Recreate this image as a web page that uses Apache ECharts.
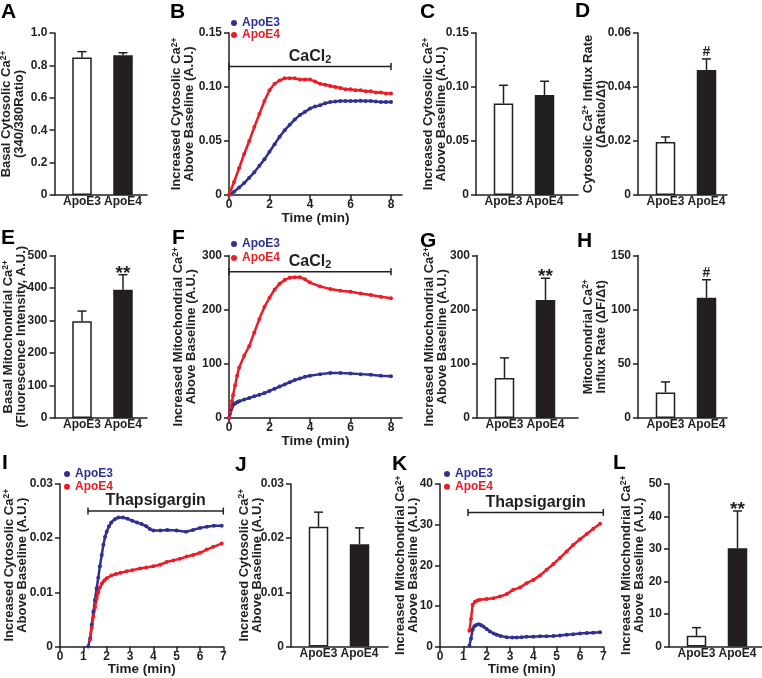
<!DOCTYPE html>
<html><head><meta charset="utf-8">
<script src="https://cdn.jsdelivr.net/npm/echarts@6.0.0/dist/echarts.min.js"></script>
<style>html,body{margin:0;padding:0;background:#fff}#c{width:762px;height:678px}</style>
</head><body><div id="c"></div>
<script>
// ================= DATA =================
const groups = ['ApoE3', 'ApoE4'];

// A: basal cytosolic Ca2+
const basalCytoMean = [0.848, 0.863];
const basalCytoSem  = [0.037, 0.015];
// C: increased cytosolic Ca2+ (CaCl2)
const incCytoMean = [0.0848, 0.0925];
const incCytoSem  = [0.0168, 0.0128];
// D: cytosolic influx rate
const cytoRateMean = [0.0196, 0.0463];
const cytoRateSem  = [0.0019, 0.0041];
// E: basal mitochondrial Ca2+
const basalMitoMean = [298, 395];
const basalMitoSem  = [31, 46];
// G: increased mitochondrial Ca2+ (CaCl2)
const incMitoMean = [74, 218];
const incMitoSem  = [37, 40];
// H: mitochondrial influx rate
const mitoRateMean = [23.5, 111];
const mitoRateSem  = [9.8, 16.6];
// J: increased cytosolic Ca2+ (thapsigargin)
const thapsCytoMean = [0.0221, 0.0189];
const thapsCytoSem  = [0.0027, 0.0030];
// L: increased mitochondrial Ca2+ (thapsigargin)
const thapsMitoMean = [3.3, 30.2];
const thapsMitoSem  = [2.5, 11.5];

const sigA = ['', ''], sigC = ['', ''], sigD = ['', '#'], sigE = ['', '**'];
const sigG = ['', '**'], sigH = ['', '#'], sigJ = ['', ''], sigL = ['', '**'];

// B: cytosolic Ca2+ time course with CaCl2
const cacl2Time = [0,0.25,0.5,0.75,1,1.25,1.5,1.75,2,2.25,2.5,2.75,3,3.25,3.5,3.75,4,4.25,4.5,4.75,5,5.25,5.5,5.75,6,6.25,6.5,6.75,7,7.25,7.5,7.75,8];
const cytoCaCl2E3 = [0,0.003,0.007,0.011,0.016,0.021,0.027,0.033,0.040,0.047,0.054,0.060,0.065,0.070,0.074,0.077,0.080,0.082,0.083,0.085,0.086,0.0865,0.087,0.087,0.087,0.087,0.0872,0.087,0.087,0.0865,0.086,0.086,0.086];
const cytoCaCl2E4 = [0,0.012,0.025,0.038,0.050,0.063,0.075,0.087,0.097,0.103,0.106,0.108,0.108,0.108,0.107,0.107,0.107,0.105,0.103,0.102,0.101,0.100,0.099,0.098,0.098,0.097,0.097,0.096,0.096,0.095,0.095,0.094,0.094];

// F: mitochondrial Ca2+ time course with CaCl2
const mitoCaCl2Time = [0,0.05,0.1,0.15,0.2,0.3,0.4,0.5,0.75,1,1.25,1.5,1.75,2,2.25,2.5,2.75,3,3.25,3.5,3.75,4,4.5,5,5.5,6,6.5,7,7.5,8];
const mitoCaCl2E3 = [0,8,15,20,24,27,29,31,34,37,40,43,46,50,54,58,62,66,70,73,76,78,81,83,83,82,81,80,78,77];
const mitoCaCl2E4 = [0,10,20,31,42,60,78,93,115,133,158,183,205,222,237,248,255,259,260,260,256,250,243,238,235,233,230,227,224,221];

// I: cytosolic Ca2+ time course with thapsigargin
const thapsCytoTimeE3 = [1.21,1.29,1.36,1.43,1.5,1.57,1.64,1.71,1.79,1.86,1.93,2.0,2.1,2.2,2.35,2.5,2.7,2.9,3.1,3.3,3.5,3.7,3.85,4.0,4.3,4.6,5.0,5.4,5.7,6.0,6.3,6.6,6.93];
const thapsCytoE3 = [0,0.0015,0.004,0.0064,0.0086,0.0107,0.0127,0.0148,0.0169,0.0188,0.0202,0.0212,0.0222,0.0229,0.0235,0.0238,0.0238,0.0236,0.0232,0.0229,0.0226,0.0222,0.0217,0.0214,0.0214,0.0215,0.0214,0.0212,0.0215,0.0219,0.0221,0.0223,0.0223];
const thapsCytoTimeE4 = [1.29,1.36,1.43,1.5,1.57,1.64,1.71,1.8,1.9,2.0,2.2,2.4,2.6,2.86,3.1,3.43,3.7,4.0,4.3,4.57,4.86,5.14,5.43,5.71,6.0,6.29,6.57,6.93];
const thapsCytoE4 = [0.0013,0.0035,0.0055,0.0072,0.0088,0.0100,0.0109,0.0117,0.0122,0.0126,0.0131,0.0134,0.0136,0.0139,0.0141,0.0144,0.0146,0.0148,0.0151,0.0156,0.0159,0.0162,0.0166,0.0169,0.0173,0.0179,0.0184,0.0190];

// K: mitochondrial Ca2+ time course with thapsigargin
const thapsMitoTimeE3 = [1.26,1.33,1.4,1.47,1.55,1.65,1.75,1.86,2.0,2.14,2.3,2.43,2.6,2.86,3.1,3.29,3.5,3.71,4.0,4.29,4.57,4.86,5.14,5.43,5.71,6.0,6.29,6.57,6.86];
const thapsMitoE3 = [0.2,2.0,4.2,5.0,5.3,5.5,5.3,4.9,4.3,3.7,3.2,2.9,2.6,2.3,2.2,2.2,2.3,2.4,2.4,2.5,2.5,2.6,2.7,2.9,3.0,3.2,3.3,3.4,3.5];
const thapsMitoTimeE4 = [1.26,1.33,1.4,1.5,1.6,1.71,2.0,2.29,2.57,2.86,3.14,3.43,3.71,4.0,4.29,4.57,4.86,5.14,5.43,5.71,6.0,6.29,6.57,6.86];
const thapsMitoE4 = [3.9,6.8,10.3,11.0,11.3,11.5,11.7,11.9,12.3,12.9,14.0,14.5,15.6,16.4,17.5,18.9,20.3,21.8,23.4,25.0,26.4,27.7,29.0,30.2];

// treatment intervals [start, end] (min)
const cacl2Interval = [0, 8];
const thapsInterval = [1.2, 7];

// tick values
const cacl2TimeTicks = [0, 2, 4, 6, 8];
const thapsTimeTicks = [0, 1, 2, 3, 4, 5, 6, 7];

// ================= STYLE / LAYOUT =================
const FONT = '"Liberation Sans", Arial, Helvetica, sans-serif';
const INK = '#231f20', BLUE = '#2e3192', RED = '#ed1c24';
const X_MIN_BAR = 1 - 27.5 / 41;
const PX_PER_GROUP = 41;

const grid = [], xAxis = [], yAxis = [], series = [], legend = [], graphic = [];

const axisLineS = {show: true, lineStyle: {color: INK, width: 1.5}};
const axisTickS = {show: true, length: 5, inside: false, lineStyle: {color: INK, width: 1.5}};
const lblS = {fontFamily: FONT, fontSize: 12, fontWeight: 'bold', color: INK};

const nameRich = {
  t: {fontFamily: FONT, fontSize: 13, fontWeight: 'bold', color: INK, lineHeight: 13},
  s: {fontFamily: FONT, fontSize: 8.5, fontWeight: 'bold', color: INK, lineHeight: 6.5, verticalAlign: 'top'}
};
function yName(pre, post, line2) {
  return '{t|' + pre + '}{s|2+}' + (post ? '{t|' + post + '}' : '') + '\n{t|' + line2 + '}';
}
function fmt(dec) { return v => (Math.abs(v) < 1e-12 ? '0' : v.toFixed(dec)); }

function makeY(i, max, interval, dec, name, nameGap) {
  return {
    gridIndex: i, type: 'value', min: 0, max: max, interval: interval,
    axisLine: axisLineS, axisTick: axisTickS, splitLine: {show: false},
    axisLabel: Object.assign({}, lblS, {margin: 7, formatter: fmt(dec)}),
    name: name, nameLocation: 'middle', nameRotate: 90, nameGap: nameGap, nameMoveOverlap: false,
    nameTextStyle: {rich: nameRich}
  };
}

function errRender(sig) {
  return function (params, api) {
    const x = api.value(0), m = api.value(1), s = api.value(2);
    const p0 = api.coord([x, m]), p1 = api.coord([x, m + s]);
    const ch = [
      {type: 'line', shape: {x1: p0[0], y1: p0[1], x2: p1[0], y2: p1[1]}, style: {stroke: INK, lineWidth: 1.5}},
      {type: 'line', shape: {x1: p1[0] - 4.5, y1: p1[1], x2: p1[0] + 4.5, y2: p1[1]}, style: {stroke: INK, lineWidth: 1.5}}
    ];
    const t = sig[params.dataIndex];
    if (t === '**') {
      ch.push({type: 'text', x: p1[0], y: p1[1] - 1, style: {text: t, font: 'bold 19px ' + FONT, fill: INK, textAlign: 'center', textVerticalAlign: 'middle'}});
    } else if (t) {
      ch.push({type: 'text', x: p1[0], y: p1[1] - 7, style: {text: t, font: 'bold 14px ' + FONT, fill: INK, textAlign: 'center', textVerticalAlign: 'middle'}});
    }
    return {type: 'group', children: ch};
  };
}

function barPanel(pos, ycfg, name, nameGap, means, sems, sig) {
  const i = grid.length;
  grid.push({left: pos.left, top: pos.top, width: pos.width, height: pos.height, outerBoundsMode: 'none', containLabel: false});
  xAxis.push({
    gridIndex: i, type: 'value', min: X_MIN_BAR, max: X_MIN_BAR + pos.width / PX_PER_GROUP,
    axisLine: axisLineS, axisTick: {show: false}, splitLine: {show: false},
    axisLabel: Object.assign({}, lblS, {margin: 1, customValues: [1, 2], formatter: v => groups[Math.round(v) - 1]})
  });
  yAxis.push(makeY(i, ycfg[0], ycfg[1], ycfg[2], name, nameGap));
  series.push({
    type: 'bar', xAxisIndex: i, yAxisIndex: i, barWidth: 19.5, silent: true,
    data: means.map((m, k) => ({value: [k + 1, m], itemStyle: {color: k === 0 ? '#ffffff' : INK, borderColor: INK, borderWidth: 1.5}}))
  });
  series.push({
    type: 'custom', xAxisIndex: i, yAxisIndex: i, z: 5, clip: false, silent: true,
    dimensions: ['x', 'mean', 'sem'], encode: {x: 0, y: 1},
    data: means.map((m, k) => [k + 1, m, sems[k]]),
    renderItem: errRender(sig)
  });
}

function bracketRender(label, rich) {
  return function (params, api) {
    const y = api.value(2);
    const a = api.coord([api.value(0), y]), b = api.coord([api.value(1), y]);
    const mx = (a[0] + b[0]) / 2;
    return {type: 'group', children: [
      {type: 'line', shape: {x1: a[0], y1: a[1], x2: b[0], y2: b[1]}, style: {stroke: INK, lineWidth: 1.5}},
      {type: 'line', shape: {x1: a[0], y1: a[1] - 3.5, x2: a[0], y2: a[1] + 3.5}, style: {stroke: INK, lineWidth: 1.5}},
      {type: 'line', shape: {x1: b[0], y1: b[1] - 3.5, x2: b[0], y2: b[1] + 3.5}, style: {stroke: INK, lineWidth: 1.5}},
      {type: 'text', x: mx, y: a[1] - 10, style: Object.assign({text: label, textAlign: 'center', textVerticalAlign: 'middle', fill: INK, font: 'bold 16px ' + FONT}, rich ? {rich: rich} : {})}
    ]};
  };
}
const cacl2Rich = {
  a: {fontFamily: FONT, fontSize: 16, fontWeight: 'bold', color: INK, lineHeight: 18},
  b: {fontFamily: FONT, fontSize: 11, fontWeight: 'bold', color: INK, lineHeight: 6, verticalAlign: 'bottom'}
};

function pairs(t, v) { return t.map((x, k) => [x, v[k]]); }

function linePanel(pos, xmax, ticks, ycfg, name, nameGap, e3, e4, interval, level, label, rich, leg) {
  const i = grid.length;
  grid.push({left: pos.left, top: pos.top, width: pos.width, height: pos.height, outerBoundsMode: 'none', containLabel: false});
  xAxis.push({
    gridIndex: i, type: 'value', min: 0, max: xmax,
    axisLine: axisLineS, axisTick: Object.assign({}, axisTickS, {customValues: ticks}), splitLine: {show: false},
    axisLabel: Object.assign({}, lblS, {margin: 4, customValues: ticks, formatter: v => String(Math.round(v))}),
    name: 'Time (min)', nameLocation: 'middle', nameGap: 16, nameMoveOverlap: false,
    nameTextStyle: {fontFamily: FONT, fontSize: 13.5, fontWeight: 'bold', color: INK}
  });
  yAxis.push(makeY(i, ycfg[0], ycfg[1], ycfg[2], name, nameGap));
  [[e3, BLUE, 'ApoE3'], [e4, RED, 'ApoE4']].forEach(([d, c, n]) => {
    series.push({
      type: 'line', name: n, xAxisIndex: i, yAxisIndex: i, data: d, silent: true,
      symbol: 'circle', symbolSize: 4, showSymbol: true, showAllSymbol: true,
      itemStyle: {color: c}, lineStyle: {color: c, width: 2.5}, z: 3
    });
  });
  series.push({
    type: 'custom', xAxisIndex: i, yAxisIndex: i, z: 4, clip: false, silent: true,
    data: [[interval[0], interval[1], level]], renderItem: bracketRender(label, rich)
  });
  legend.push({
    orient: 'vertical', left: leg[0], top: leg[1], padding: 0, itemGap: leg[2],
    itemWidth: 6, itemHeight: 6, icon: 'circle', selectedMode: false,
    textStyle: {fontFamily: FONT, fontSize: 12, fontWeight: 'bold', lineHeight: 12},
    data: [{name: 'ApoE3', textStyle: {color: BLUE}}, {name: 'ApoE4', textStyle: {color: RED}}]
  });
}

const ROW1 = {top: 33, height: 162}, ROW2 = {top: 255.5, height: 162.5}, ROW3 = {top: 484, height: 162.5};
const inc = 'Increased ', ab = 'Above Baseline (A.U.)';

// Row 1
barPanel(Object.assign({left: 54.5, width: 92.5}, ROW1), [1, 0.2, 1],
  yName('Basal Cytosolic Ca', '', '(340/380Ratio)'), 29, basalCytoMean, basalCytoSem, sigA);
linePanel(Object.assign({left: 229, width: 173}, ROW1), 173 / 20.25, cacl2TimeTicks, [0.15, 0.05, 2],
  yName(inc + 'Cytosolic Ca', '', ab), 33, pairs(cacl2Time, cytoCaCl2E3), pairs(cacl2Time, cytoCaCl2E4),
  cacl2Interval, 0.119, '{a|CaCl}{b|2}', cacl2Rich, [231, 17, 0]);
barPanel(Object.assign({left: 476, width: 102}, ROW1), [0.15, 0.05, 2],
  yName(inc + 'Cytosolic Ca', '', ab), 28.5, incCytoMean, incCytoSem, sigC);
barPanel(Object.assign({left: 638, width: 89}, ROW1), [0.06, 0.02, 2],
  yName('Cytosolic Ca', ' Influx Rate', '(\u0394Ratio/\u0394t)'), 30.5, cytoRateMean, cytoRateSem, sigD);

// Row 2
barPanel(Object.assign({left: 54.5, width: 92.5}, ROW2), [500, 100, 0],
  yName('Basal Mitochondrial Ca', '', '(Fluorescence Intensity, A.U.)'), 27, basalMitoMean, basalMitoSem, sigE);
linePanel(Object.assign({left: 229, width: 173}, ROW2), 173 / 20.25, cacl2TimeTicks, [300, 100, 0],
  yName(inc + 'Mitochondrial Ca', '', ab), 31.5, pairs(mitoCaCl2Time, mitoCaCl2E3), pairs(mitoCaCl2Time, mitoCaCl2E4),
  cacl2Interval, 270, '{a|CaCl}{b|2}', cacl2Rich, [231, 238, 2]);
barPanel(Object.assign({left: 477, width: 101}, ROW2), [300, 100, 0],
  yName(inc + 'Mitochondrial Ca', '', ab), 28.5, incMitoMean, incMitoSem, sigG);
barPanel(Object.assign({left: 638, width: 89}, ROW2), [150, 50, 0],
  yName('Mitochondrial Ca', '', 'Influx Rate (\u0394F/\u0394t)'), 30.5, mitoRateMean, mitoRateSem, sigH);

// Row 3
linePanel(Object.assign({left: 60, width: 163.3}, ROW3), 7, thapsTimeTicks, [0.03, 0.01, 2],
  yName(inc + 'Cytosolic Ca', '', ab), 31.5, pairs(thapsCytoTimeE3, thapsCytoE3), pairs(thapsCytoTimeE4, thapsCytoE4),
  thapsInterval, 0.025, 'Thapsigargin', null, [64, 468, 0.7]);
barPanel(Object.assign({left: 291, width: 97}, ROW3), [0.03, 0.01, 2],
  yName(inc + 'Cytosolic Ca', '', ab), 27.5, thapsCytoMean, thapsCytoSem, sigJ);
linePanel(Object.assign({left: 440, width: 163.3}, ROW3), 7, thapsTimeTicks, [40, 10, 0],
  yName(inc + 'Mitochondrial Ca', '', ab), 20, pairs(thapsMitoTimeE3, thapsMitoE3), pairs(thapsMitoTimeE4, thapsMitoE4),
  thapsInterval, 33, 'Thapsigargin', null, [444, 468, 0.7]);
barPanel(Object.assign({left: 669, width: 93}, ROW3), [50, 10, 0],
  yName(inc + 'Mitochondrial Ca', '', ab), 23.5, thapsMitoMean, thapsMitoSem, sigL);

// Panel letters
[['A', 1, 12.5], ['B', 170, 12.5], ['C', 420, 12], ['D', 575, 11],
 ['E', 1, 238], ['F', 172, 238], ['G', 420, 241.5], ['H', 577, 241.5],
 ['I', 2, 463.5], ['J', 235, 465], ['K', 392, 464], ['L', 613, 463.5]].forEach(([t, x, y]) => {
  graphic.push({type: 'text', x: x, y: y, silent: true, style: {text: t, font: 'bold 21px ' + FONT, fill: '#000', textVerticalAlign: 'middle'}});
});

const chart = echarts.init(document.getElementById('c'), null, {renderer: 'canvas'});
chart.setOption({
  animation: false, backgroundColor: '#ffffff', textStyle: {fontFamily: FONT},
  grid: grid, xAxis: xAxis, yAxis: yAxis, series: series, legend: legend, graphic: graphic
});
</script></body></html>
